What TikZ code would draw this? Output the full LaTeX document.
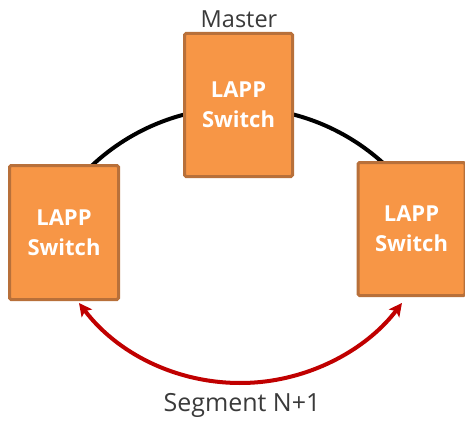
\documentclass[tikz,border=0pt]{standalone}
\usepackage{fontspec}
\setmainfont{Open Sans}
\usetikzlibrary{arrows.meta,backgrounds}
\definecolor{boxfill}{HTML}{F79646}
\definecolor{boxline}{HTML}{B8703A}
\definecolor{segred}{HTML}{C00000}
\definecolor{labelgray}{HTML}{3A3A3A}
\tikzset{
  switchbox/.style={draw=boxline, fill=boxfill, line width=3pt, rounded corners=1.5pt,
    text=white, font=\fontsize{22}{30}\selectfont\bfseries, align=center},
  ringline/.style={line width=4pt, black},
  segarrow/.style={line width=4pt, segred,
    {Stealth[length=13pt,width=13pt,inset=3pt]}-{Stealth[length=13pt,width=13pt,inset=3pt]}},
  caption/.style={text=labelgray, anchor=base, inner sep=0pt}
}
\begin{document}
\begin{tikzpicture}[x=1pt,y=1pt]
  \useasboundingbox (0,0) rectangle (465,421);

  % the three switches
  \node[switchbox, minimum width=108pt, minimum height=143pt] (M) at (238.5,316) {LAPP\\Switch};
  \node[switchbox, minimum width=109pt, minimum height=134pt] (L) at (64,188.5) {LAPP\\Switch};
  \node[switchbox, minimum width=107pt, minimum height=133pt] (R) at (411.5,192) {LAPP\\Switch};

  % ring through the master, behind the boxes
  \begin{scope}[on background layer]
    \draw[ringline] ([xshift=28pt,yshift=-1.5pt]L.north) arc[start angle=133.1, end angle=47.4, radius=215pt];
  \end{scope}

  % segment between the two lower switches
  \draw[segarrow] ([xshift=15pt,yshift=-2pt]L.south) arc[start angle=-142.7, end angle=-37.3, radius=203pt];

  % labels
  \node[caption, font=\fontsize{23.5}{28}\selectfont] (master) at (239,393) {Master};
  \node[caption, font=\fontsize{25}{30}\selectfont] (seg) at (242,10) {Segment N+1};
\end{tikzpicture}
\end{document}
